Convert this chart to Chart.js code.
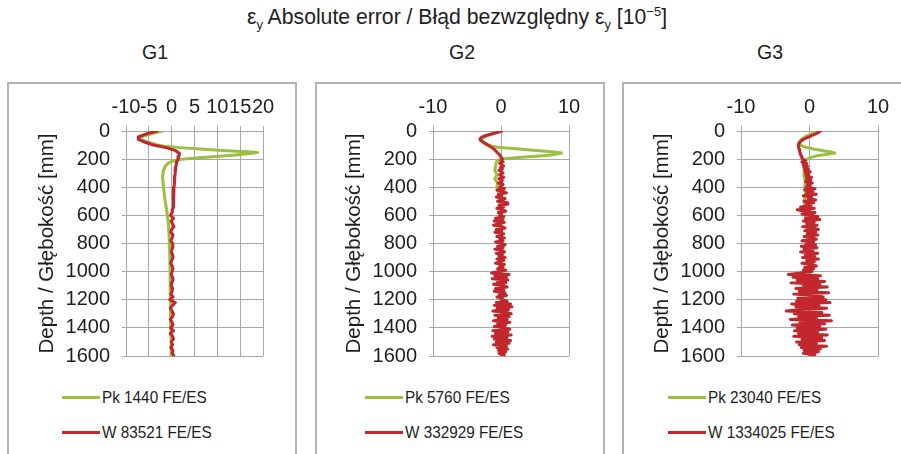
<!DOCTYPE html>
<html>
<head>
<meta charset="utf-8">
<script src="https://cdn.jsdelivr.net/npm/chart.js"></script>
<style>
    html, body { margin: 0; padding: 0; background: #fff; }
    body { width: 901px; height: 454px; position: relative; overflow: hidden;
           font-family: "Liberation Sans", Arial, sans-serif; color: #1e1e1e; }
    .main-title { position: absolute; top: 5px; left: 0; width: 914px; text-align: center; font-size: 21.2px; white-space: nowrap; }
    .main-title sub { font-size: 13px; vertical-align: -5px; line-height: 0; }
    .main-title sup { font-size: 13px; vertical-align: 8px; line-height: 0; }
    .group-title { position: absolute; top: 41px; font-size: 19.5px; transform: translateX(-50%); }
    .panel { position: absolute; top: 82px; height: 400px; border: 2px solid #b4b4b4; box-sizing: border-box; }
    canvas { position: absolute; top: 83px; }
    .legend { position: absolute; top: 380px; font-size: 17px; white-space: nowrap; }
    .legend-row { height: 35px; line-height: 35px; }
    .legend-line { display: inline-block; width: 38px; height: 3px; margin-right: 2px; vertical-align: middle; position: relative; top: -1px; }
    .legend-text { display: inline-block; transform: scaleX(0.9); transform-origin: left center; }
</style>
</head>
<body>
<div class="main-title">ε<sub>y</sub> Absolute error / Błąd bezwzględny ε<sub>y</sub> [10<sup>−5</sup>]</div>
<div class="group-title" style="left:155px">G1</div>
<div class="group-title" style="left:462px">G2</div>
<div class="group-title" style="left:770px">G3</div>

<div class="panel" style="left:7px; width:290px"></div>
<div class="panel" style="left:315px; width:290px"></div>
<div class="panel" style="left:622px; width:300px"></div>

<canvas id="g1-chart" width="288" height="297" style="left:8px"></canvas>
<canvas id="g2-chart" width="288" height="297" style="left:315px"></canvas>
<canvas id="g3-chart" width="288" height="297" style="left:623px"></canvas>

<div class="legend" id="g1-legend" style="left:62px"></div>
<div class="legend" id="g2-legend" style="left:365px"></div>
<div class="legend" id="g3-legend" style="left:668px"></div>

<script>
// depth sampling [mm]
const depthFine = [
    0, 10, 20, 30, 40, 50, 60, 70, 80, 90, 100, 110, 120, 130, 140, 150, 160, 170, 180, 190,
    200, 210, 220, 230, 240, 250, 260, 270, 280, 290, 300, 310, 320, 330, 340, 350, 360, 370, 380, 390,
    400, 410, 420, 430, 440, 450, 460, 470, 480, 490, 500, 510, 520, 530, 540, 550, 560, 570, 580, 590,
    600, 610, 620, 630, 640, 650, 660, 670, 680, 690, 700, 710, 720, 730, 740, 750, 760, 770, 780, 790,
    800, 810, 820, 830, 840, 850, 860, 870, 880, 890, 900, 910, 920, 930, 940, 950, 960, 970, 980, 990,
    1000, 1010, 1020, 1030, 1040, 1050, 1060, 1070, 1080, 1090, 1100, 1110, 1120, 1130, 1140, 1150, 1160, 1170, 1180, 1190,
    1200, 1210, 1220, 1230, 1240, 1250, 1260, 1270, 1280, 1290, 1300, 1310, 1320, 1330, 1340, 1350, 1360, 1370, 1380, 1390,
    1400, 1410, 1420, 1430, 1440, 1450, 1460, 1470, 1480, 1490, 1500, 1510, 1520, 1530, 1540, 1550, 1560, 1570, 1580, 1590,
    1600
];
const depthCoarse = [
    0, 20, 40, 60, 80, 100, 120, 140, 160, 180, 200, 220, 240, 260, 280, 300, 320, 340, 360, 380,
    400, 420, 440, 460, 480, 500, 520, 540, 560, 580, 600, 620, 640, 660, 680, 700, 720, 740, 760, 780,
    800, 820, 840, 860, 880, 900, 920, 940, 960, 980, 1000, 1020, 1040, 1060, 1080, 1100, 1120, 1140, 1160, 1180,
    1200, 1220, 1240, 1260, 1280, 1300, 1320, 1340, 1360, 1380, 1400, 1420, 1440, 1460, 1480, 1500, 1520, 1540, 1560, 1580,
    1600
];

const depthTicks = [0, 200, 400, 600, 800, 1000, 1200, 1400, 1600];
const g1ErrTicks = [-10, -5, 0, 5, 10, 15, 20];
const g23ErrTicks = [-10, 0, 10];

const legendLabels = {
    g1: ['Pk 1440 FE/ES', 'W 83521 FE/ES'],
    g2: ['Pk 5760 FE/ES', 'W 332929 FE/ES'],
    g3: ['Pk 23040 FE/ES', 'W 1334025 FE/ES'],
};

// G1
const g1PkDepth = [0, 20, 40, 55, 64, 80, 100, 111, 120, 130, 140, 148, 153, 160, 170, 180, 190, 200, 210, 225,
    250, 280, 320, 400, 480, 560, 640, 720, 800, 900, 1000, 1100, 1200, 1300, 1400, 1500, 1600];
const g1PkErr = [-2.0, -4.5, -6.5, -7.2, -6.8, -5.0, -3.0, -1.0, 2.5, 7.0, 12.0, 16.5, 18.8, 17.0, 14.0, 10.5, 6.0, 2.5, 0.5, -0.6,
    -1.4, -1.8, -2.0, -1.8, -1.5, -1.1, -0.8, -0.6, -0.5, -0.4, -0.35, -0.3, -0.25, -0.2, -0.15, -0.1, -0.1];
const g1WErr = [
    -3.2, -5.5, -7.2, -7.3, -5.8, -4.0, -1.0, 0.9, 1.7, 1.6,
    1.4, 1.1, 1.0, 0.9, 0.8, 0.75, 0.7, 0.65, 0.6, 0.55,
    0.5, 0.5, 0.45, 0.4, 0.45, 0.35, 0.3, 0.3, 0.2, 0.1,
    -0.3, 0.4, -0.1, 0.2, 0.5, 0.0, -0.2, 0.3, 0.1, -0.2,
    0.2, 0.3, 0.1, -0.1, 0.2, 0.3, 0.0, -0.2, 0.1, 0.3,
    0.1, -0.1, 0.2, 0.3, 0.0, -0.1, 0.2, 0.1, -0.2, 0.3,
    -0.4, 0.8, 0.2, -0.3, 0.1, 0.4, 0.2, -0.3, 0.1, 0.3,
    -0.2, 0.4, -0.3, 0.2, 0.4, -0.1, 0.2, -0.2, 0.3, 0.1,
    0.5
];

// G2
const g2PkDepth = [0, 20, 40, 60, 80, 100, 115, 130, 140, 150, 157, 165, 175, 185, 195, 205, 220, 250, 280, 310,
    340, 370, 400, 450, 500, 600, 700, 800, 900, 1000, 1100, 1200, 1300, 1400, 1500, 1600];
const g2PkErr = [0, -1.2, -2.4, -2.9, -2.7, -2.1, -0.5, 3.0, 5.6, 7.8, 8.9, 8.0, 6.6, 3.5, 0.8, -0.3, -0.7, -0.8, -0.9, -0.6,
    -0.9, -0.5, -0.6, -0.3, -0.2, -0.1, 0.0, 0.1, 0.0, 0.1, 0.0, 0.1, 0.0, 0.1, 0.0, 0.0];
const g2WErr = [
    0.1, -0.5, -1.3, -2.1, -2.7, -3.0, -3.1, -2.9, -2.6, -2.2, -1.9, -1.6, -1.3, -1.0, -0.8, -0.6, -0.4, -0.2, -0.1, 0.1,
    0.2, 0.0, 0.3, -0.2, 0.1, 0.4, -0.1, 0.2, -0.3, 0.1, 0.3, -0.2, 0.0, 0.4, -0.3, 0.2, 0.1, -0.4, 0.3, 0.0,
    -0.2, 0.5, -0.6, 0.2, 0.8, -0.4, 0.1, -0.7, 0.6, 0.3, -0.5, 0.9, 1.0, -0.3, 0.4, -0.6, 0.2, 0.7, -0.4, 0.1,
    -0.2, 0.4, -0.8, 0.3, -1.0, 0.5, -0.3, -1.1, 0.2, 0.6, -0.7, 0.1, -0.9, 0.4, 0.0, -0.6, 0.5, -0.2, 0.3, -0.8,
    0.2, 0.6, -0.5, 0.3, -0.9, 0.1, 0.5, -0.7, 0.2, -0.3, 0.6, -0.6, 0.4, 0.0, -0.8, 0.5, -0.2, 0.3, -0.5, 0.7,
    -0.4, -1.4, 1.2, -0.9, 0.8, -1.3, 1.0, -0.5, 0.7, -1.1, 0.3, 0.9, -0.8, 0.4, -1.0, 0.6, -0.3, 0.8, -0.6, 0.2,
    0.1, 0.9, -0.7, 1.4, -1.0, 1.6, -0.6, 1.1, -1.2, 0.8, 1.5, -0.9, 1.2, -0.4, 0.9, -1.1, 1.3, -0.5, 0.7, -1.0,
    0.6, 1.3, -1.2, 1.0, -0.8, 1.5, -1.3, 0.9, -1.0, 1.4, -0.7, 1.2, -1.1, 0.8, -0.6, 1.0, -0.4, 0.7, -0.3, 0.5,
    0.1
];

// G3
const g3PkDepth = [0, 20, 40, 60, 80, 100, 115, 130, 140, 150, 157, 165, 175, 190, 210, 240, 280, 320, 360, 400,
    450, 500, 550, 600, 650, 700, 800, 900, 1000, 1100, 1200, 1300, 1400, 1500, 1600];
const g3PkErr = [1.2, 0.3, -0.6, -1.2, -1.5, -1.4, -0.6, 0.8, 2.0, 3.2, 3.7, 2.6, 1.2, 0.0, -0.6, -0.9, -0.7, -0.8, -0.6, -0.7,
    -0.6, -0.8, -0.5, -0.6, -0.4, -0.3, -0.2, -0.1, 0.0, 0.0, 0.1, 0.0, 0.1, 0.0, 0.0];
const g3WErr = [
    1.6, 1.3, 0.9, 0.45, 0.0, -0.5, -0.9, -1.2, -1.4, -1.55, -1.65, -1.6, -1.55, -1.5, -1.45, -1.4, -1.35, -1.3, -1.2, -1.1,
    -1.0, -0.6, -1.1, -0.4, -0.9, -0.3, -0.8, -0.2, -0.7, 0.1, -0.6, -0.1, -0.5, 0.3, -0.4, 0.2, -0.6, 0.4, -0.3, 0.1,
    -0.5, 0.8, -0.7, 0.5, -0.4, 1.0, -0.9, 0.3, -0.2, 0.9, -0.8, 0.6, -0.5, 0.2, -1.3, 0.7, -1.8, -0.6, 0.8, -1.1,
    0.4, 1.2, -0.6, 1.5, -0.9, 0.7, -0.4, 1.1, -1.0, 0.5, 1.3, -0.7, 0.9, -0.3, 1.2, -0.8, 0.4, 1.0, -1.1, 0.6,
    -0.5, 0.9, -1.2, 1.1, -0.8, 0.5, -1.3, 1.2, -0.6, 0.8, -1.0, 1.3, -0.4, 0.7, -1.1, 0.3, 1.0, -0.7, 0.6, -0.9,
    0.4, -1.2, -3.1, 1.6, -2.4, 1.2, -1.8, 2.2, -2.7, 1.5, -0.9, 2.6, -2.0, 1.1, -1.5, 2.8, -2.3, 0.9, 2.0, -1.7,
    2.4, -1.9, 3.0, -2.6, 1.4, -2.0, 2.5, -1.2, -3.4, 1.8, -2.2, 2.9, -1.6, 1.0, -2.8, 3.2, -1.4, 2.2, -2.5, 1.5,
    -1.8, 2.4, -2.2, 1.2, -1.6, 2.6, -2.3, 1.8, -1.1, 2.2, -1.9, 1.0, -1.5, 2.5, -1.2, 1.6, -0.8, 1.3, -0.9, 0.8,
    0.2
];

const GREEN = '#9bbf3e';
const RED = '#c1272d';
const GRID = '#a8a8a8';
const TEXT = '#1e1e1e';

Chart.defaults.font.family = "'Liberation Sans', Arial, sans-serif";
Chart.defaults.color = TEXT;

const toPoints = (depths, errs) => depths.map((d, i) => ({x: errs[i], y: d}));

// builds the legend as html under the plot, same as the excel original
const htmlLegend = {
    id: 'htmlLegend',
    afterUpdate(chart, args, options) {
        const box = document.getElementById(options.containerID);
        box.innerHTML = '';
        chart.data.datasets.forEach(ds => {
            const row = document.createElement('div');
            row.className = 'legend-row';
            const mark = document.createElement('span');
            mark.className = 'legend-line';
            mark.style.background = ds.borderColor;
            const text = document.createElement('span');
            text.className = 'legend-text';
            text.textContent = ds.label;
            row.appendChild(mark);
            row.appendChild(text);
            box.appendChild(row);
        });
    }
};

const drawDepthChart = (id, labels, pk, w, errTicks, padRight) => {
    return new Chart(document.getElementById(id + '-chart').getContext('2d'), {
        type: 'scatter',
        data: {
            datasets: [{
                label: labels[0],
                data: pk,
                showLine: true,
                borderColor: GREEN,
                backgroundColor: GREEN,
                borderWidth: 3,
                pointRadius: 0,
                tension: 0,
                order: 1
            }, {
                label: labels[1],
                data: w,
                showLine: true,
                borderColor: RED,
                backgroundColor: RED,
                borderWidth: 3,
                pointRadius: 0,
                tension: 0,
                order: 0
            }]
        },
        options: {
            responsive: false,
            animation: false,
            devicePixelRatio: 1,
            layout: {padding: {left: 0, top: 0, right: padRight, bottom: 0}},
            elements: {line: {borderJoinStyle: 'round', borderCapStyle: 'round'}},
            plugins: {
                legend: {display: false},
                tooltip: {enabled: false},
                htmlLegend: {containerID: id + '-legend'}
            },
            scales: {
                x: {
                    type: 'linear',
                    position: 'top',
                    min: errTicks[0],
                    max: errTicks[errTicks.length - 1],
                    afterBuildTicks: (scale) => { scale.ticks = errTicks.map(v => ({value: v})); },
                    ticks: {
                        autoSkip: false,
                        maxRotation: 0,
                        padding: 7,
                        font: {size: 20},
                        callback: (value) => String(value)
                    },
                    grid: {color: GRID, tickLength: 5},
                    border: {color: GRID},
                    afterFit: (scale) => { scale.height = 48; }
                },
                y: {
                    type: 'linear',
                    reverse: true,
                    min: depthTicks[0],
                    max: depthTicks[depthTicks.length - 1],
                    afterBuildTicks: (scale) => { scale.ticks = depthTicks.map(v => ({value: v})); },
                    ticks: {
                        padding: 12,
                        font: {size: 20},
                        callback: (value) => String(value)
                    },
                    grid: {color: GRID, tickLength: 4},
                    border: {color: GRID},
                    title: {
                        display: true,
                        text: 'Depth / Głębokość [mm]',
                        font: {size: 20.5},
                        padding: {top: 27, bottom: 0}
                    },
                    afterFit: (scale) => { scale.width = 118; }
                }
            }
        },
        plugins: [htmlLegend]
    });
};

const g1Chart = drawDepthChart('g1', legendLabels.g1, toPoints(g1PkDepth, g1PkErr), toPoints(depthCoarse, g1WErr), g1ErrTicks, 33);
const g2Chart = drawDepthChart('g2', legendLabels.g2, toPoints(g2PkDepth, g2PkErr), toPoints(depthFine, g2WErr), g23ErrTicks, 34);
const g3Chart = drawDepthChart('g3', legendLabels.g3, toPoints(g3PkDepth, g3PkErr), toPoints(depthFine, g3WErr), g23ErrTicks, 33);
</script>
</body>
</html>
